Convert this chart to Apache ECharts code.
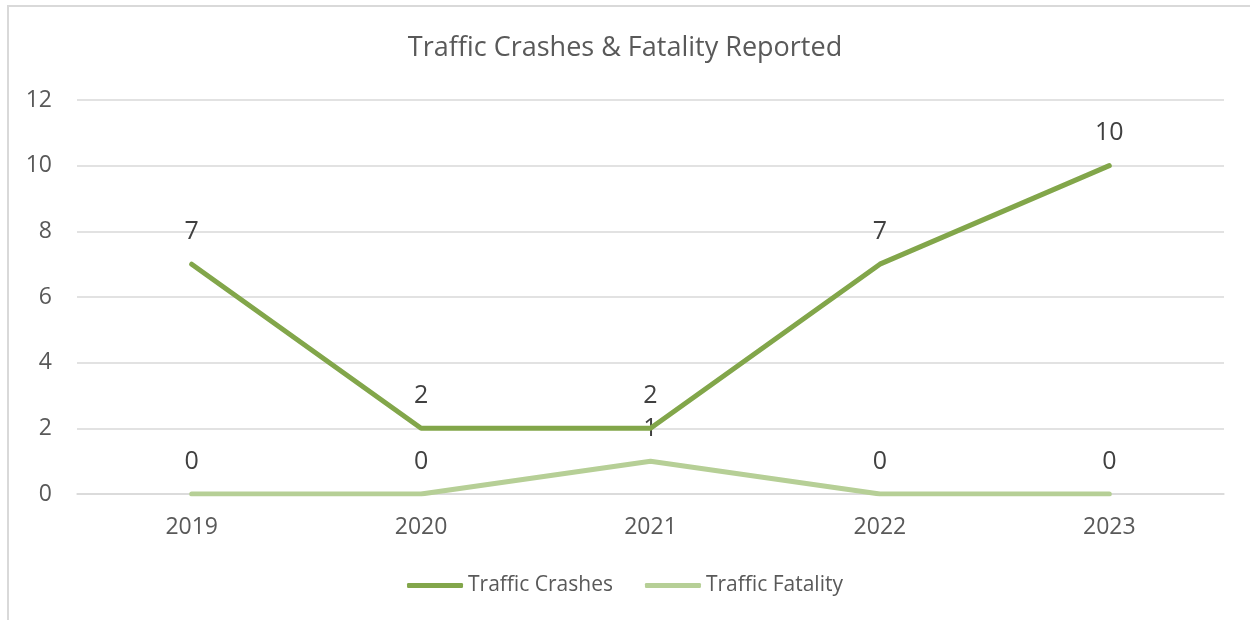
<!DOCTYPE html>
<html>
<head>
<meta charset="utf-8">
<script src="https://cdn.jsdelivr.net/npm/echarts@6/dist/echarts.min.js"></script>
<style>
  html, body { margin: 0; padding: 0; background: #fff; }
  #chart { width: 1250px; height: 620px; }
</style>
</head>
<body>
<div id="chart"></div>
<script>
const years = ['2019', '2020', '2021', '2022', '2023'];
const crashes = [7, 2, 2, 7, 10];
const fatality = [0, 0, 1, 0, 0];

const fontFamily = '"Open Sans", sans-serif';
const textColor = '#595959';

const myChart = echarts.init(document.getElementById('chart'));
const option = {
    backgroundColor: '#fff',
    animation: false,
    graphic: [
        {
            type: 'polyline',
            shape: { points: [[8, 620], [8, 6], [1250, 6]] },
            style: { stroke: '#d9d9d9', lineWidth: 2, fill: null }
        }
    ],
    title: {
        text: 'Traffic Crashes & Fatality Reported',
        left: 'center',
        top: 30,
        textStyle: { fontFamily: fontFamily, fontSize: 27, fontWeight: 'normal', color: textColor }
    },
    legend: {
        bottom: 19,
        left: 'center',
        icon: 'roundRect',
        itemWidth: 56,
        itemHeight: 5,
        itemGap: 32,
        textStyle: { fontFamily: fontFamily, fontSize: 21, color: textColor }
    },
    grid: { left: 77, right: 26, top: 100, bottom: 126 },
    xAxis: {
        type: 'category',
        data: years,
        boundaryGap: true,
        axisLine: { lineStyle: { color: '#d9d9d9', width: 1.5 } },
        axisTick: { show: false },
        axisLabel: { fontFamily: fontFamily, fontSize: 23, color: textColor, margin: 22 }
    },
    yAxis: {
        type: 'value',
        min: 0,
        max: 12,
        interval: 2,
        axisLine: { show: false },
        axisTick: { show: false },
        splitLine: { lineStyle: { color: '#d9d9d9', width: 1.5 } },
        axisLabel: { fontFamily: fontFamily, fontSize: 23, color: textColor, margin: 25 }
    },
    series: [
        {
            name: 'Traffic Crashes',
            type: 'line',
            data: crashes,
            symbol: 'circle',
            symbolSize: 0,
            showSymbol: true,
            color: '#82a64a',
            lineStyle: { width: 5, cap: 'round', join: 'round' },
            label: {
                show: true,
                position: 'top',
                distance: 20,
                fontFamily: fontFamily,
                fontSize: 25,
                color: '#404040'
            },
            z: 3
        },
        {
            name: 'Traffic Fatality',
            type: 'line',
            data: fatality,
            symbol: 'circle',
            symbolSize: 0,
            showSymbol: true,
            color: '#b6cf96',
            lineStyle: { width: 5, cap: 'round', join: 'round' },
            label: {
                show: true,
                position: 'top',
                distance: 20,
                fontFamily: fontFamily,
                fontSize: 25,
                color: '#404040'
            },
            z: 2
        }
    ]
};
myChart.setOption(option);
window.addEventListener('resize', function () {
    myChart.resize();
});
</script>
</body>
</html>
